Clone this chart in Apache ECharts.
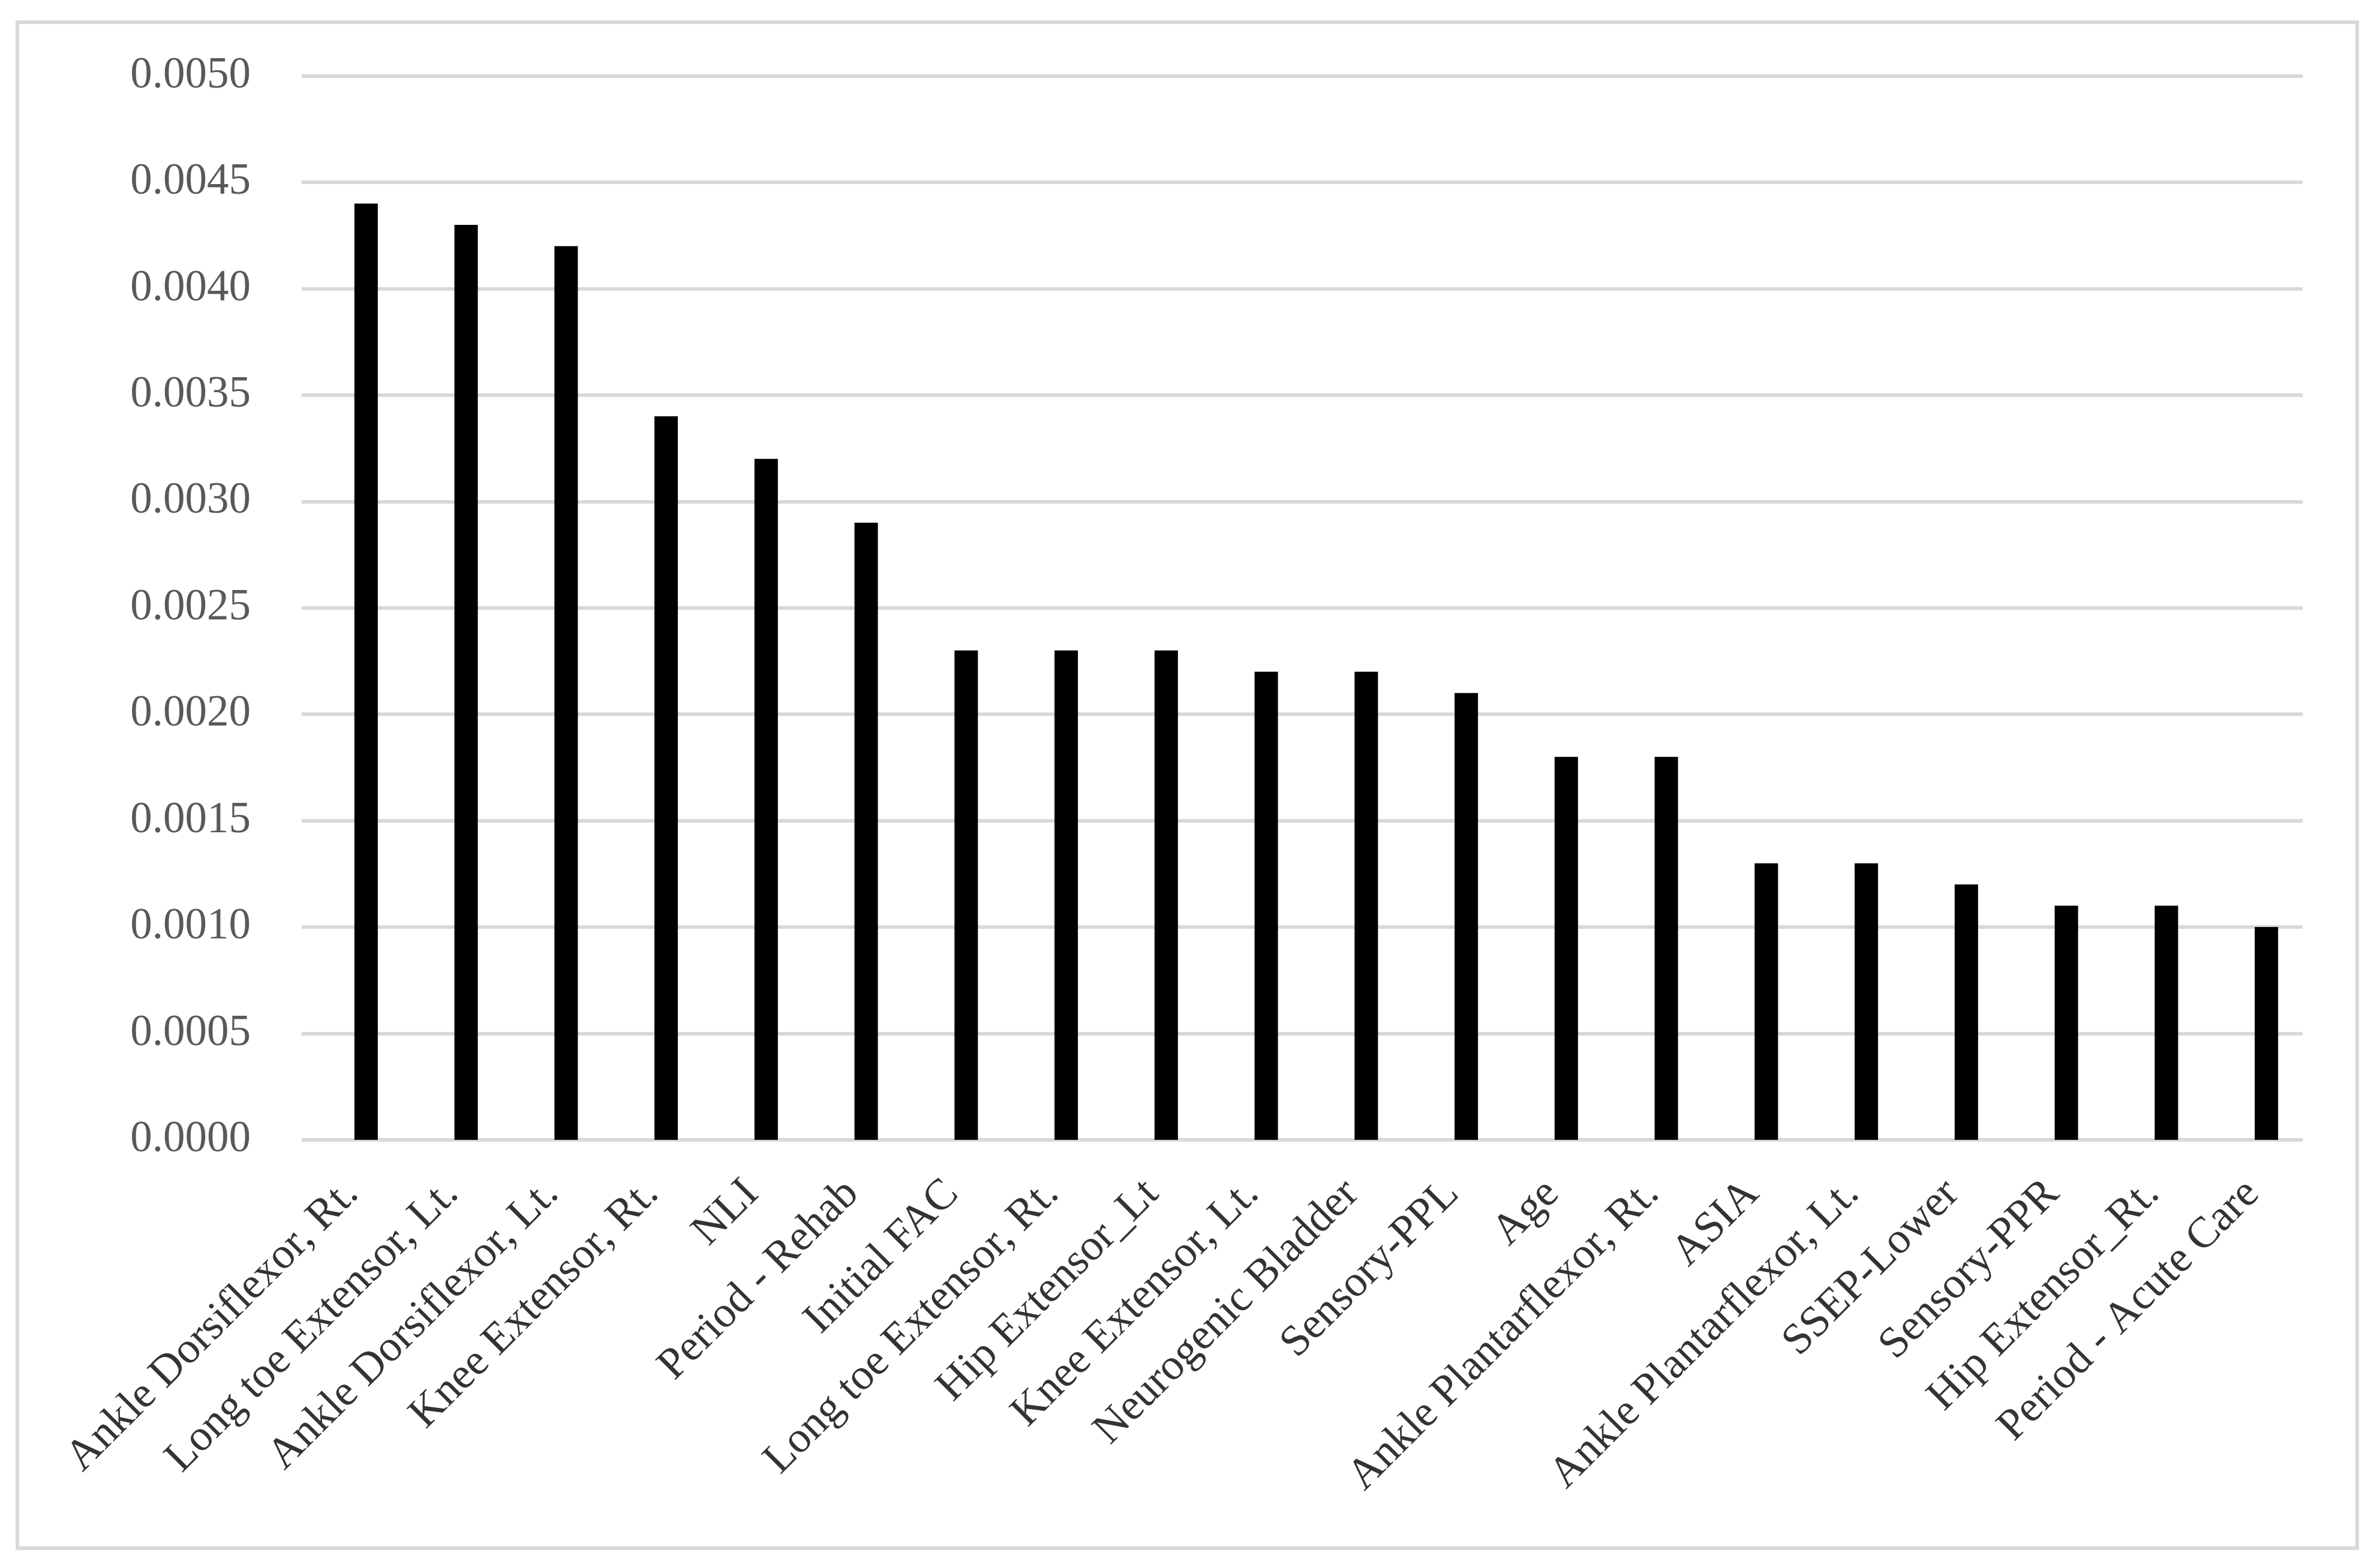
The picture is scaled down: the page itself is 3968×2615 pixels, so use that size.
<!DOCTYPE html>
<html>
<head>
<meta charset="utf-8">
<script src="https://cdn.jsdelivr.net/npm/echarts@6/dist/echarts.min.js"></script>
<style>
  html, body { margin: 0; padding: 0; background: #fff; }
  #chart { width: 3968px; height: 2615px; }
</style>
</head>
<body>
<div id="chart"></div>
<script>
var categories = [
    'Ankle Dorsiflexor, Rt.', 'Long toe Extensor, Lt.', 'Ankle Dorsiflexor, Lt.',
    'Knee Extensor, Rt.', 'NLI', 'Period - Rehab', 'Initial FAC',
    'Long toe Extensor, Rt.', 'Hip Extensor_Lt', 'Knee Extensor, Lt.',
    'Neurogenic Bladder', 'Sensory-PPL', 'Age', 'Ankle Plantarflexor, Rt.',
    'ASIA', 'Ankle Plantarflexor, Lt.', 'SSEP-Lower', 'Sensory-PPR',
    'Hip Extensor_Rt.', 'Period - Acute Care'
];
var values = [
    0.0044, 0.0043, 0.0042, 0.0034, 0.0032, 0.0029, 0.0023, 0.0023, 0.0023, 0.0022,
    0.0022, 0.0021, 0.0018, 0.0018, 0.0013, 0.0013, 0.0012, 0.0011, 0.0011, 0.0010
];
var yMin = 0;
var yMax = 0.005;
var yStep = 0.0005;

var font = 'Liberation Serif';
var myChart = echarts.init(document.getElementById('chart'));

var option = {
    backgroundColor: '#ffffff',
    animation: false,
    graphic: [{
        type: 'rect',
        shape: { x: 29, y: 37, width: 3901, height: 2545 },
        style: { fill: 'none', stroke: '#d9d9d9', lineWidth: 6 },
        silent: true
    }],
    grid: [
        // bars
        { left: 527, top: 126.5, width: 3335, height: 1774.5 },
        // gridlines and labels
        { left: 503, top: 126.5, width: 3336, height: 1774.5 }
    ],
    xAxis: [{
        type: 'category',
        gridIndex: 0,
        data: categories,
        show: false
    }, {
        type: 'category',
        gridIndex: 1,
        data: categories,
        axisLine: { show: false },
        axisTick: { show: false },
        axisLabel: {
            interval: 0,
            rotate: 45,
            margin: 79,
            fontSize: 73,
            fontFamily: font,
            color: '#333333'
        }
    }],
    yAxis: [{
        type: 'value',
        gridIndex: 0,
        min: yMin,
        max: yMax,
        interval: yStep,
        show: false
    }, {
        type: 'value',
        gridIndex: 1,
        min: yMin,
        max: yMax,
        interval: yStep,
        axisLine: { show: false },
        axisTick: { show: false },
        splitLine: { lineStyle: { color: '#d9d9d9', width: 6 } },
        axisLabel: {
            margin: 85,
            fontSize: 73,
            fontFamily: font,
            color: '#595959',
            formatter: function (v) { return v.toFixed(4); }
        }
    }],
    series: [{
        type: 'bar',
        xAxisIndex: 0,
        yAxisIndex: 0,
        data: values,
        barWidth: 39,
        itemStyle: { color: '#000000' }
    }]
};
myChart.setOption(option);
</script>
</body>
</html>
